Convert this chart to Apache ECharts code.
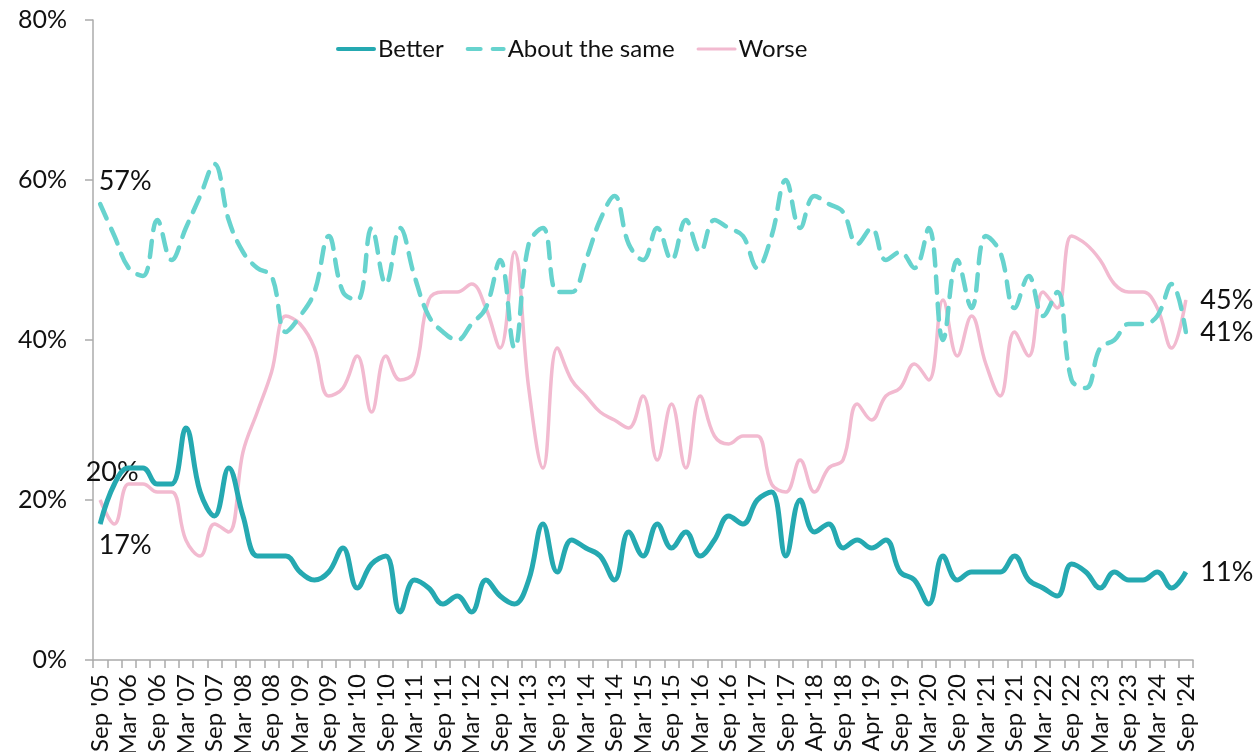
<!DOCTYPE html>
<html>
<head>
<meta charset="utf-8">
<script src="https://cdn.jsdelivr.net/npm/echarts@6/dist/echarts.min.js"></script>
<style>
html,body{margin:0;padding:0;background:#fff;}
#chart{width:1260px;height:752px;}
</style>
</head>
<body>
<div id="chart"></div>
<script>
// quarterly survey points, only every other one is labelled on the axis
var categories = [
  "Sep '05","Dec '05","Mar '06","Jun '06","Sep '06","Dec '06","Mar '07","Jun '07","Sep '07","Dec '07",
  "Mar '08","Jun '08","Sep '08","Dec '08","Mar '09","Jun '09","Sep '09","Dec '09","Mar '10","Jun '10",
  "Sep '10","Dec '10","Mar '11","Jun '11","Sep '11","Dec '11","Mar '12","Jun '12","Sep '12","Dec '12",
  "Mar '13","Jun '13","Sep '13","Dec '13","Mar '14","Jun '14","Sep '14","Dec '14","Mar '15","Jun '15",
  "Sep '15","Dec '15","Mar '16","Jun '16","Sep '16","Dec '16","Mar '17","Jun '17","Sep '17","Dec '17",
  "Apr '18","Jun '18","Sep '18","Dec '18","Apr '19","Jun '19","Sep '19","Dec '19","Mar '20","Jun '20",
  "Sep '20","Dec '20","Mar '21","Jun '21","Sep '21","Dec '21","Mar '22","Jun '22","Sep '22","Dec '22",
  "Mar '23","Jun '23","Sep '23","Dec '23","Mar '24","Jun '24","Sep '24"
];

var better = [
  17,22,24,24,22,22,29,21,18,24,
  18,13,13,13,11,10,11,14,9,12,
  13,6,10,9,7,8,6,10,8,7,
  10,17,11,15,14,13,10,16,13,17,
  14,16,13,15,18,17,20,21,13,20,
  16,17,14,15,14,15,11,10,7,13,
  10,11,11,11,13,10,9,8,12,11,
  9,11,10,10,11,9,11
];

var aboutSame = [
  57,53,49,48,55,50,54,58,62,55,
  51,49,48,41,43,46,53,46,45,54,
  47,54,48,43,41,40,42,44,50,39,
  52,54,46,46,50,55,58,52,50,54,
  50,55,51,55,54,53,49,53,60,54,
  58,57,56,52,54,50,51,49,54,40,
  50,44,53,51,44,48,43,46,35,34,
  39,40,42,42,43,47,41
];

var worse = [
  20,17,22,22,21,21,15,13,17,16,
  26,31,36,43,42,39,33,34,38,31,
  38,35,36,45,46,46,47,44,39,51,
  34,24,39,35,33,31,30,29,33,25,
  32,24,33,28,27,28,28,22,21,25,
  21,24,25,32,30,33,34,37,35,45,
  38,43,37,33,41,38,46,44,53,52,
  50,47,46,46,44,39,45
];

var seriesNames = ['Better', 'About the same', 'Worse'];
var colors = ['#25a9b1', '#67d3ce', '#f2bad0'];
// legend icons: plain line, dashed line, thin line
var legendIcons = [
  'path://M2,0H38A2,2 0 0 1 38,4H2A2,2 0 0 1 2,0Z',
  'path://M2,0H15A2,2 0 0 1 15,4H2A2,2 0 0 1 2,0Z M27,0H38A2,2 0 0 1 38,4H27A2,2 0 0 1 27,0Z',
  'path://M1.5,0.5H38.5A1.5,1.5 0 0 1 38.5,3.5H1.5A1.5,1.5 0 0 1 1.5,0.5Z'
];

var fontFam = 'Lato, "Noto Sans", sans-serif';

function pointLabel(pos, offset) {
  return {
    show: true,
    position: pos,
    distance: 5,
    offset: offset,
    formatter: '{c}%',
    fontFamily: fontFam,
    fontSize: 27,
    color: '#111'
  };
}

// put a tiny symbol + label on the first and last point only
function withEndLabels(vals, color, firstLabel) {
  return vals.map(function(v, i) {
    if (i === 0) {
      return {value: v, symbol: 'circle', symbolSize: 1, itemStyle: {color: color}, label: firstLabel};
    }
    if (i === vals.length - 1) {
      var l = pointLabel('right', [0, 0]);
      l.distance = 14;
      return {value: v, symbol: 'circle', symbolSize: 1, itemStyle: {color: color}, label: l};
    }
    return v;
  });
}

var chart = echarts.init(document.getElementById('chart'));

var option = {
  animation: false,
  backgroundColor: '#fff',
  grid: {
    left: 93,
    right: 67,
    top: 20,
    bottom: 92,
    containLabel: false,
    outerBoundsMode: 'none'
  },
  legend: {
    data: seriesNames.map(function(n, i) {
      return {name: n, icon: legendIcons[i]};
    }),
    left: 331,
    top: 32,
    itemWidth: 40,
    itemHeight: 4,
    itemGap: 22,
    textStyle: {
      fontFamily: fontFam,
      fontSize: 24,
      color: '#111',
      padding: [0, 0, 0, -3]
    }
  },
  xAxis: {
    type: 'category',
    data: categories,
    boundaryGap: true,
    axisLine: {lineStyle: {color: '#ababab', width: 1.5}},
    axisTick: {show: true, interval: 0, length: 8, lineStyle: {color: '#ababab', width: 1.5}},
    axisLabel: {
      interval: 1,
      rotate: 90,
      margin: 14,
      fontFamily: fontFam,
      fontSize: 24,
      color: '#111'
    }
  },
  yAxis: {
    type: 'value',
    min: 0,
    max: 80,
    interval: 20,
    axisLine: {show: true, lineStyle: {color: '#ababab', width: 1.5}},
    axisTick: {show: true, length: 8, lineStyle: {color: '#ababab', width: 1.5}},
    splitLine: {show: false},
    axisLabel: {
      formatter: '{value}%',
      margin: 26,
      fontFamily: fontFam,
      fontSize: 25,
      color: '#111'
    }
  },
  series: [
    {
      name: seriesNames[0],
      type: 'line',
      smooth: 0.4,
      symbol: 'none',
      showSymbol: true,
      showAllSymbol: true,
      z: 4,
      color: colors[0],
      lineStyle: {color: colors[0], width: 5},
      data: withEndLabels(better, colors[0], pointLabel('bottom', [25, 2]))
    },
    {
      name: seriesNames[1],
      type: 'line',
      smooth: 0.4,
      symbol: 'none',
      showSymbol: true,
      showAllSymbol: true,
      z: 3,
      color: colors[1],
      lineStyle: {color: colors[1], width: 4.5, type: [16, 11], cap: 'round'},
      data: withEndLabels(aboutSame, colors[1], pointLabel('top', [25, -4]))
    },
    {
      name: seriesNames[2],
      type: 'line',
      smooth: 0.4,
      symbol: 'none',
      showSymbol: true,
      showAllSymbol: true,
      z: 2,
      color: colors[2],
      lineStyle: {color: colors[2], width: 3.5},
      data: withEndLabels(worse, colors[2], pointLabel('top', [12, -9]))
    }
  ]
};

chart.setOption(option);
window.addEventListener('resize', function() {
  chart.resize();
});
</script>
</body>
</html>
